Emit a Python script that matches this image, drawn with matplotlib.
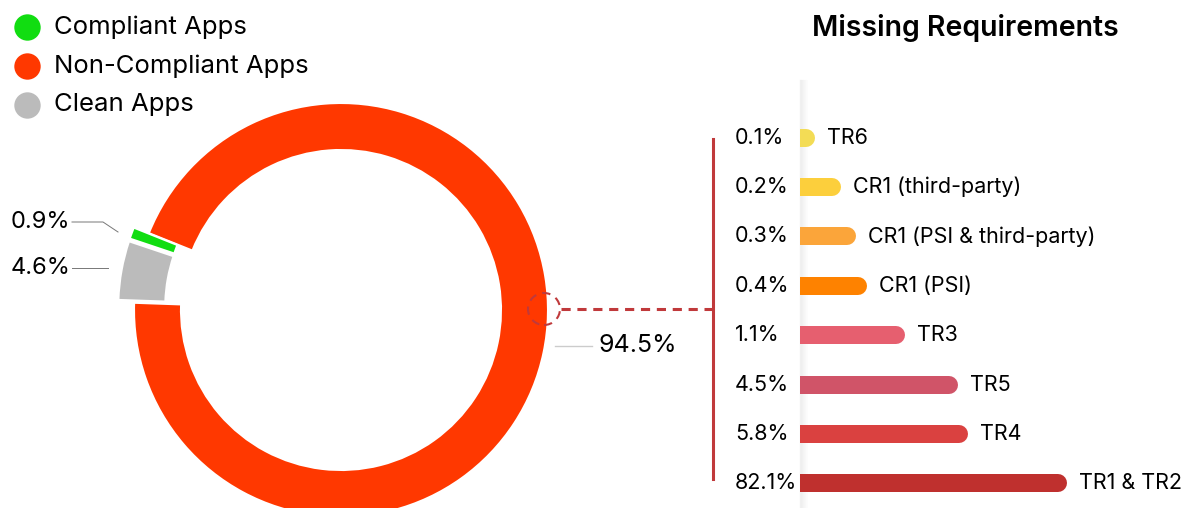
import matplotlib.pyplot as plt
from matplotlib.patches import Circle
from matplotlib import transforms

plt.rcParams['font.family'] = ['Inter', 'DejaVu Sans']

# donnees du donut
app_labels = ['Compliant Apps', 'Non-Compliant Apps', 'Clean Apps']
app_share = [0.9, 94.5, 4.6]
app_colors = ['#11dd11', '#ff3800', '#bbbbbb']

# donnees des barres
req_labels = ['TR6', 'CR1 (third-party)', 'CR1 (PSI & third-party)', 'CR1 (PSI)',
              'TR3', 'TR5', 'TR4', 'TR1 & TR2']
req_share = [0.1, 0.2, 0.3, 0.4, 1.1, 4.5, 5.8, 82.1]
req_colors = ['#f3dc55', '#fccf3c', '#fba53a', '#fe8200',
              '#e65f6f', '#d05468', '#da4140', '#bf302e']

W, H = 1184, 508
fig = plt.figure(figsize=(W / 100, H / 100), dpi=100)

# axe de fond en pixels (y vers le haut)
ax = fig.add_axes([0, 0, 1, 1])

order = [1, 0, 2]  # non-compliant, compliant, clean
ax.pie([app_share[i] for i in order], colors=[app_colors[i] for i in order],
       startangle=178, counterclock=True, explode=[0, 16, 16],
       radius=207, center=(341, 198), frame=True,
       wedgeprops=dict(width=47, edgecolor='white', linewidth=1.5))
ax.set_xlim(0, W)
ax.set_ylim(0, H)
ax.axis('off')

# etiquettes du donut
ax.plot([72, 103, 118], [286, 286, 276], color='#777777', lw=0.7)
ax.text(70, 286, f"{app_share[0]}%", ha='right', va='center', fontsize=17)
ax.plot([72, 108], [240, 240], color='#777777', lw=0.7)
ax.text(70, 240, f"{app_share[2]}%", ha='right', va='center', fontsize=17)
ax.plot([555, 592], [162, 162], color='#cccccc', lw=1)
ax.text(598, 162, f"{app_share[1]}%", ha='left', va='center', fontsize=18)

# legende
for k, (lab, col) in enumerate(zip(app_labels, app_colors)):
    ax.scatter(27, 481 - 39 * k, s=19 ** 2, color=col, linewidths=0)
    ax.text(54, 481 - 39 * k, lab, ha='left', va='center', fontsize=18.5)

# connecteur
red = '#c0393b'
ax.add_patch(Circle((544, 199), 16, fill=False, ec=red, lw=1.5, ls=(0, (4, 3))))
ax.plot([561, 712], [199, 199], color=red, lw=2.2, ls=(0, (3, 2.2)))
ax.plot([713, 713], [29, 369], color=red, lw=2.2)

# ombre de l'axe des barres
for k in range(8):
    ax.plot([800 + k, 800 + k], [0, 428], color='#000000', alpha=0.05 * (1 - k / 8), lw=1)

ax.text(965, 480, "Missing Requirements", ha='center', va='center', fontsize=20.5, weight='semibold')

# barres (echelle log)
bax = fig.add_axes([800 / W, 0, 384 / W, 395 / H])
L = 0.0852
R = L * 10 ** (384 / 86.5)
bax.set_xscale('log')
bax.set_xlim(L, R)
bax.set_ylim(len(req_share) - 0.5, -0.5)
bax.axis('off')
trans = transforms.blended_transform_factory(bax.transAxes, bax.transData)
for i, (v, lab, col) in enumerate(zip(req_share, req_labels, req_colors)):
    bax.plot([L, v], [i, i], color=col, lw=12.96, solid_capstyle='round')
    bax.text(-0.169, i, f"{v}%", transform=trans, ha='left', va='center', fontsize=15.5)
    bax.annotate(lab, xy=(v, i), xytext=(21, 0), textcoords='offset pixels',
                 ha='left', va='center', fontsize=15.5)

fig.savefig('out.png', dpi=100)
